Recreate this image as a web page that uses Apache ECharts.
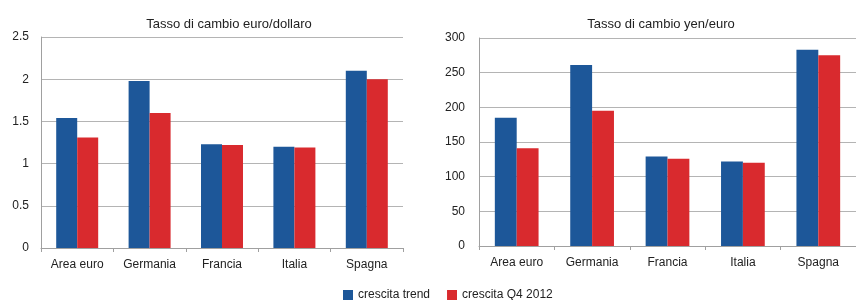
<!DOCTYPE html>
<html>
<head>
<meta charset="utf-8">
<script src="https://cdn.jsdelivr.net/npm/echarts@6/dist/echarts.min.js"></script>
<style>html,body{margin:0;padding:0;background:#fff}#c{width:856px;height:300px}</style>
</head>
<body>
<div id="c"></div>
<script>
var categories = ['Area euro', 'Germania', 'Francia', 'Italia', 'Spagna'];
var seriesNames = ['crescita trend', 'crescita Q4 2012'];
var titles = ['Tasso di cambio euro/dollaro', 'Tasso di cambio yen/euro'];
var eurUsdTrend = [1.54, 1.98, 1.23, 1.20, 2.10];
var eurUsdQ4 = [1.31, 1.60, 1.22, 1.19, 2.00];
var yenEurTrend = [185, 261, 129, 122, 283];
var yenEurQ4 = [141, 195, 126, 120, 275];

var blue = '#1d5799';
var red = '#d92a2e';
var font = 'Liberation Sans, Arial, sans-serif';
var txt = '#222';

function xAxis(i) {
  return {
    type: 'category', gridIndex: i, data: categories,
    axisLine: { lineStyle: { color: '#a0a0a0', width: 1 } },
    axisTick: { show: true, length: 4, alignWithLabel: false, lineStyle: { color: '#a0a0a0' } },
    axisLabel: { color: txt, fontSize: 12, fontFamily: font, margin: 11 }
  };
}
function yAxis(i, max, interval, margin) {
  return {
    type: 'value', gridIndex: i, min: 0, max: max, interval: interval,
    axisLine: { show: true, lineStyle: { color: '#a0a0a0', width: 1 } },
    axisTick: { show: false },
    splitLine: { lineStyle: { color: '#b4b4b4', width: 1 } },
    axisLabel: { color: txt, fontSize: 12, fontFamily: font, margin: margin }
  };
}
function bar(name, data, color, i) {
  return {
    name: name, type: 'bar', xAxisIndex: i, yAxisIndex: i, data: data,
    barGap: '0%', barCategoryGap: '42%',
    itemStyle: { color: color },
    emphasis: { disabled: true }
  };
}

var chart = echarts.init(document.getElementById('c'), null, { renderer: 'canvas' });
chart.setOption({
  animation: false,
  textStyle: { fontFamily: font },
  title: [
    { text: titles[0], left: 224, top: 13, textAlign: 'center',
      textStyle: { fontSize: 13, fontWeight: 'normal', color: txt, fontFamily: font } },
    { text: titles[1], left: 656, top: 13, textAlign: 'center',
      textStyle: { fontSize: 13, fontWeight: 'normal', color: txt, fontFamily: font } }
  ],
  legend: {
    data: seriesNames, left: 343, top: 289, padding: 0, itemWidth: 10, itemHeight: 10, itemGap: 17,
    icon: 'rect', textStyle: { fontSize: 12, color: txt, fontFamily: font }
  },
  grid: [
    { left: 41, top: 37, width: 362, height: 211 },
    { left: 479, top: 38, width: 381, height: 208 }
  ],
  xAxis: [xAxis(0), xAxis(1)],
  yAxis: [yAxis(0, 2.5, 0.5, 12), yAxis(1, 300, 50, 14)],
  series: [
    bar(seriesNames[0], eurUsdTrend, blue, 0),
    bar(seriesNames[1], eurUsdQ4, red, 0),
    bar(seriesNames[0], yenEurTrend, blue, 1),
    bar(seriesNames[1], yenEurQ4, red, 1)
  ]
});
</script>
</body>
</html>
